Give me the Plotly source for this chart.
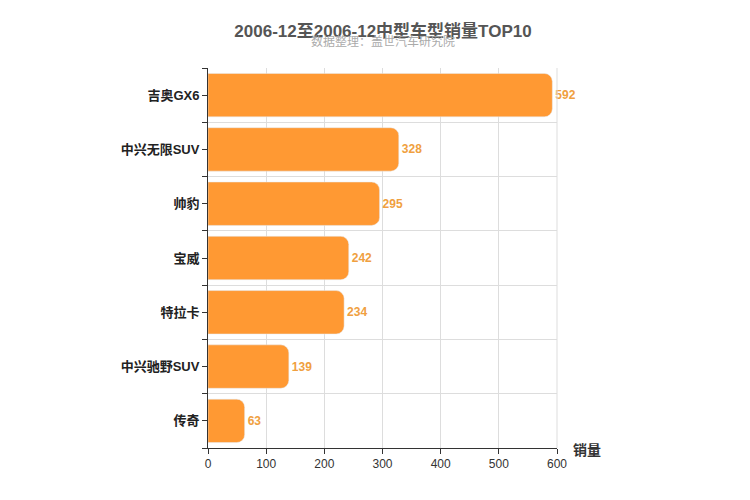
import plotly.graph_objects as go

models = ["吉奥GX6", "中兴无限SUV", "帅豹", "宝威", "特拉卡", "中兴驰野SUV", "传奇"]
sales = [592, 328, 295, 242, 234, 139, 63]

n = len(models)
ypos = list(range(n))[::-1]

fig = go.Figure(go.Bar(
    x=sales, y=ypos, orientation="h", width=0.8,
    marker=dict(color="#ff9933", cornerradius=8),
    text=sales, texttemplate="<b>%{x}</b>", textposition="outside",
    textfont=dict(color="#f0a040", size=12, family="Liberation Sans, Arial"),
    cliponaxis=False,
))

fig.update_layout(
    width=750, height=500,
    margin=dict(l=200, r=201, t=60, b=60, autoexpand=False),
    plot_bgcolor="white", paper_bgcolor="white",
    font=dict(family="Liberation Sans, Noto Sans CJK SC", color="#333"),
    showlegend=False,
    title=dict(text="<b>2006-12至2006-12中型车型销量TOP10</b>", x=0.5, y=0.965,
               xanchor="center", font=dict(size=17, color="#555")),
    annotations=[
        dict(text="数据整理：盖世汽车研究院", x=0.5, y=1.095, xref="paper", yref="paper",
             showarrow=False, font=dict(size=12, color="#aaa")),
        dict(text="<b>销量</b>", x=1.04, y=-0.005, xref="paper", yref="paper",
             xanchor="left", yanchor="middle", showarrow=False,
             font=dict(size=14, color="#333")),
    ],
)
fig.update_xaxes(range=[0, 600], dtick=100, showgrid=True, gridcolor="#ddd",
                 showline=True, linecolor="#333", ticks="outside", ticklen=5,
                 tickcolor="#333", zeroline=False, tickfont=dict(size=12, color="#333"),
                 automargin=False)
fig.update_yaxes(range=[-0.5, n - 0.5], tickvals=ypos,
                 ticktext=["<b>%s</b>" % m for m in models],
                 showgrid=False, showline=True, linecolor="#333",
                 ticks="outside", ticklen=5, tickcolor="#333", automargin=False,
                 tickfont=dict(size=13, color="#222"),
                 minor=dict(tickvals=[i - 0.5 for i in range(n + 1)], showgrid=True,
                            gridcolor="#ddd", ticks="outside", ticklen=5, tickcolor="#333"))
fig.add_shape(type="line", xref="paper", yref="paper", x0=1, x1=1, y0=0, y1=1,
              line=dict(color="#ddd", width=1))

fig.write_html("out.html")
